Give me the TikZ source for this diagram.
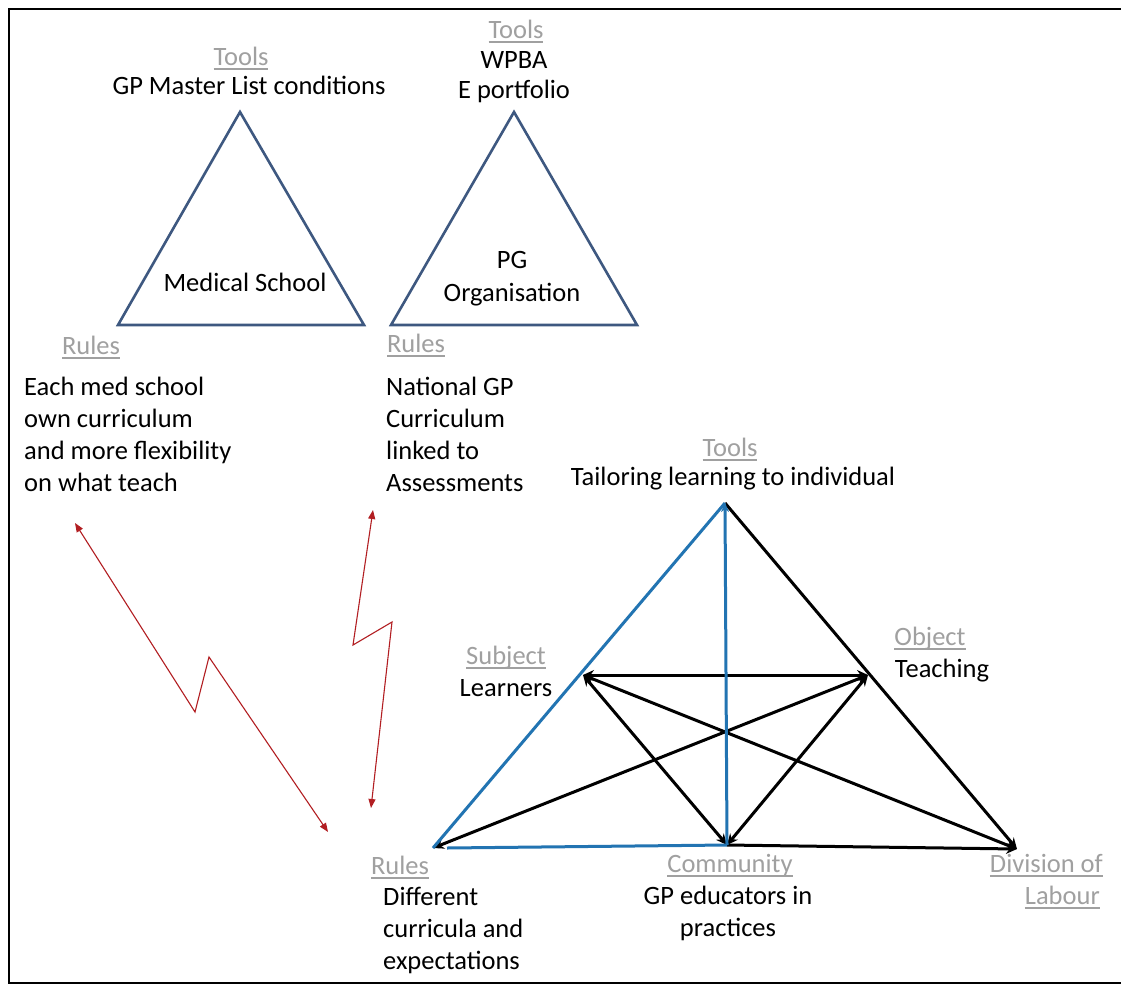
\documentclass[tikz,border=0pt]{standalone}
\usepackage{fontspec}
\setmainfont{Carlito}
\usetikzlibrary{arrows.meta}
\definecolor{hdgray}{RGB}{160,160,160}
\definecolor{tribl}{RGB}{62,88,128}
\definecolor{edgeblue}{RGB}{34,116,178}
\definecolor{boltred}{RGB}{178,30,34}
% underlined grey heading
\newcommand\hd[1]{\textcolor{hdgray}{\setbox0\hbox{#1}\rlap{\rule[-4.5pt]{\wd0}{1.7pt}}\box0}}
\begin{document}
\begin{tikzpicture}[x=1pt,y=-1pt,
  txt/.style={inner sep=0pt, font=\fontsize{26.5}{32}\selectfont},
  smalltri/.style={draw=tribl, line width=2.6pt, line join=miter},
  link/.style={black, line width=3pt, {Stealth[length=11pt,width=10pt]}-{Stealth[length=11pt,width=10pt]}},
  linkend/.style={black, line width=3pt, -{Stealth[length=11pt,width=10pt]}},
  blueedge/.style={edgeblue, line width=3pt},
  bolt/.style={boltred, line width=1.1pt, line join=miter, {Triangle[length=9pt,width=7pt]}-{Triangle[length=9pt,width=7pt]}}]
\useasboundingbox (0,0) rectangle (1121,985);
\fill[white] (0,0) rectangle (1121,985);
% frame: open on the right
\draw[line width=2pt] (1135,9) -- (9,9) -- (9,983) -- (1135,983);

% ---- medical school triangle
\coordinate (ma) at (240,112);
\coordinate (ml) at (118,325);
\coordinate (mr) at (364,325);
\draw[smalltri] (ma) -- (ml) -- (mr) -- cycle;
\node[txt, anchor=base] (mtools) at (241,65) {\hd{Tools}};
\node[txt, anchor=base] (mtool1) at (249,94) {GP Master List conditions};
\node[txt, anchor=base] (msch) at (245,291) {Medical School};
\node[txt, anchor=base] (mrules) at (91,354) {\hd{Rules}};
\node[txt, anchor=base west] (mr1) at (24,395) {Each med school};
\node[txt, anchor=base west] (mr2) at (24,427) {own curriculum};
\node[txt, anchor=base west] (mr3) at (24,459) {and more flexibility};
\node[txt, anchor=base west] (mr4) at (24,491) {on what teach};

% ---- postgraduate triangle
\coordinate (pa) at (514,112);
\coordinate (pl) at (391,325);
\coordinate (pr) at (637,325);
\draw[smalltri] (pa) -- (pl) -- (pr) -- cycle;
\node[txt, anchor=base] (ptools) at (516,38) {\hd{Tools}};
\node[txt, anchor=base] (ptool1) at (514,68) {WPBA};
\node[txt, anchor=base] (ptool2) at (514,98) {E portfolio};
\node[txt, anchor=base] (porg1) at (512,268) {PG};
\node[txt, anchor=base] (porg2) at (512,301) {Organisation};
\node[txt, anchor=base] (prules) at (416,352) {\hd{Rules}};
\node[txt, anchor=base west] (pr1) at (386,395) {National GP};
\node[txt, anchor=base west] (pr2) at (386,427) {Curriculum};
\node[txt, anchor=base west] (pr3) at (386,459) {linked to};
\node[txt, anchor=base west] (pr4) at (386,491) {Assessments};

% ---- tension bolts
\coordinate (ba1) at (75,523);
\coordinate (ba2) at (195,712);
\coordinate (ba3) at (209,657);
\coordinate (ba4) at (328,832);
\draw[bolt] (ba1) -- (ba2) -- (ba3) -- (ba4);
\coordinate (bb1) at (373,510);
\coordinate (bb2) at (353,645);
\coordinate (bb3) at (392,622);
\coordinate (bb4) at (371,808);
\draw[bolt] (bb1) -- (bb2) -- (bb3) -- (bb4);

% ---- activity system
\coordinate (T) at (725,503);
\coordinate (S) at (583,675);
\coordinate (O) at (868,675);
\coordinate (R) at (433,848);
\coordinate (C) at (727,845);
\coordinate (D) at (1017,849);
\coordinate (Rb) at (447,848);

\draw[linkend] (T) -- (D);
\draw[link] (S) -- (O);
\draw[link] (S) -- (D);
\draw[link] (S) -- (C);
\draw[link] (R) -- (O);
\draw[link] (C) -- (O);
\draw[linkend] (C) -- (D);
\draw[blueedge] (T) -- (R);
\draw[blueedge] (Rb) -- (C);
\draw[blueedge, -{Stealth[length=9pt,width=8pt]}] (C) -- (T);

\node[txt, anchor=base] (ttools) at (730,456) {\hd{Tools}};
\node[txt, anchor=base] (ttool1) at (733,485) {Tailoring learning to individual};
\node[txt, anchor=base] (subj) at (506,664) {\hd{Subject}};
\node[txt, anchor=base] (subj1) at (506,696) {Learners};
\node[txt, anchor=base] (obj) at (930,645) {\hd{Object}};
\node[txt, anchor=base] (obj1) at (942,677) {Teaching};
\node[txt, anchor=base] (rules) at (400,874) {\hd{Rules}};
\node[txt, anchor=base west] (rul1) at (383,905) {Different};
\node[txt, anchor=base west] (rul2) at (383,937) {curricula and};
\node[txt, anchor=base west] (rul3) at (383,969) {expectations};
\node[txt, anchor=base] (comm) at (730,872) {\hd{Community}};
\node[txt, anchor=base] (comm1) at (728,904) {GP educators in};
\node[txt, anchor=base] (comm2) at (728,936) {practices};
\node[txt, anchor=base east] (div1) at (1103,872) {\hd{Division of}};
\node[txt, anchor=base east] (div2) at (1100,904) {\hd{Labour}};
\end{tikzpicture}
\end{document}
